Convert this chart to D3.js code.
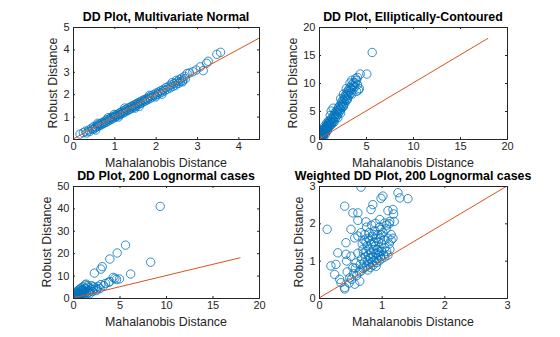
<!DOCTYPE html>
<html>
<head>
<meta charset="utf-8">
<script src="https://d3js.org/d3.v7.min.js"></script>
<style>
  body { margin: 0; background: #fff; }
  svg { display: block; font-family: "Liberation Sans", Arial, Helvetica, sans-serif; }
</style>
</head>
<body>
<svg id="chart" width="560" height="337"></svg>
<script>
// --- data ---
const titles = [
  "DD Plot, Multivariate Normal",
  "DD Plot, Elliptically-Contoured",
  "DD Plot, 200 Lognormal cases",
  "Weighted DD Plot, 200 Lognormal cases"
]
const xLabel = "Mahalanobis Distance"
const yLabel = "Robust Distance"

const xDomains = [[0, 4.5], [0, 20], [0, 20], [0, 3]]
const yDomains = [[0, 5], [0, 20], [0, 50], [0, 3]]
const xTicks = [[0, 1, 2, 3, 4], [0, 5, 10, 15, 20], [0, 5, 10, 15, 20], [0, 1, 2, 3]]
const yTicks = [[0, 1, 2, 3, 4, 5], [0, 5, 10, 15, 20], [0, 10, 20, 30, 40, 50], [0, 1, 2, 3]]
// reference line end (line goes from 0,0 to end,end)
const lineEnds = [4.5, 18, 18, 3]

const normalPts = [
  [0.17,0.22],[0.25,0.28],[0.30,0.35],[0.33,0.27],[0.38,0.40],[0.40,0.33],[0.45,0.48],[0.47,0.42],
  [0.50,0.55],[0.52,0.46],[0.55,0.52],[0.58,0.62],[0.60,0.56],[0.60,0.70],[0.63,0.66],[0.65,0.60],
  [0.68,0.70],[0.70,0.64],[0.72,0.75],[0.75,0.70],[0.78,0.80],[0.80,0.74],[0.82,0.86],[0.85,0.80],
  [0.88,0.90],[0.90,0.85],[0.92,0.96],[0.95,0.90],[0.97,1.00],[1.00,0.95],[1.00,1.10],[1.02,1.06],
  [1.04,1.00],[1.07,1.10],[1.09,1.04],[1.12,1.15],[1.14,1.09],[1.16,1.20],[1.19,1.14],[1.21,1.25],
  [1.23,1.18],[1.26,1.30],[1.28,1.22],[1.30,1.34],[1.33,1.28],[1.35,1.40],[1.37,1.32],[1.40,1.44],
  [1.42,1.37],[1.44,1.48],[1.47,1.42],[1.49,1.53],[1.50,1.38],[1.51,1.46],[1.54,1.58],[1.56,1.52],
  [1.58,1.62],[1.61,1.56],[1.63,1.67],[1.65,1.60],[1.68,1.72],[1.70,1.65],[1.73,1.76],[1.75,1.70],
  [1.78,1.80],[1.80,1.75],[1.83,1.86],[1.86,1.80],[1.89,1.92],[1.92,1.87],[1.95,1.98],[1.98,1.93],
  [2.00,1.88],[2.01,2.05],[2.04,1.99],[2.07,2.10],[2.10,2.05],[2.13,2.16],[2.16,2.10],[2.19,2.22],
  [2.22,2.16],[2.25,2.30],[2.28,2.22],[2.32,2.36],[2.35,2.28],[2.38,2.42],[2.42,2.35],[2.45,2.48],
  [2.48,2.40],[2.52,2.55],[2.55,2.48],[2.58,2.66],[2.60,2.56],[2.63,2.72],[2.66,2.62],[2.70,2.80],
  [2.72,2.70],[2.76,2.92],[2.82,2.95],[2.90,3.00],[2.98,3.08],[3.08,3.22],[3.15,3.05],[3.23,3.38],
  [3.27,3.47],[3.48,3.78],[3.57,3.87],
  [0.55,0.40],[0.85,0.95],[1.10,0.98],[1.25,1.38],[1.60,1.45],[1.85,1.95],[2.15,2.00],[2.40,2.52],
  [2.65,2.55],[2.50,2.62]
]

const ellipticPts = [
  [0.05,0.1],[0.08,0.4],[0.1,0.15],[0.12,0.6],[0.15,0.3],[0.18,0.8],[0.2,0.1],[0.22,0.5],
  [0.25,0.9],[0.28,0.3],[0.3,0.7],[0.33,1.1],[0.35,0.5],[0.38,0.9],[0.4,1.3],[0.42,0.6],
  [0.45,1.0],[0.48,1.5],[0.5,0.8],[0.52,1.2],[0.55,1.7],[0.58,1.0],[0.6,1.4],[0.62,1.9],
  [0.65,1.2],[0.7,1.6],[0.72,2.1],[0.75,1.4],[0.8,1.9],[0.82,2.4],[0.85,1.7],[0.9,2.2],
  [0.95,2.7],[1.0,2.0],[1.02,2.5],[1.08,3.0],[1.1,2.3],[1.15,2.8],[1.2,3.3],[1.25,2.6],
  [1.3,3.1],[1.35,3.7],[1.4,2.9],[1.45,3.5],[1.5,4.1],[1.55,3.2],[1.6,3.9],[1.65,4.5],
  [1.7,3.6],[1.75,4.3],[1.8,4.9],[1.85,4.0],[1.9,4.7],[1.95,5.3],[2.0,4.4],[2.05,5.1],
  [2.1,5.7],[2.15,4.8],[2.2,5.5],[2.25,6.1],[2.3,5.2],[2.35,5.9],[2.4,6.6],[2.45,5.6],
  [2.5,6.3],[2.55,7.0],[2.6,6.0],[2.65,6.8],[2.7,7.5],[2.75,6.4],[2.8,7.2],[2.85,7.9],
  [2.9,6.9],[2.95,7.7],[3.0,8.4],[3.05,7.3],[3.1,8.1],[3.15,8.8],[3.2,7.8],[3.25,8.6],
  [3.3,9.2],[3.4,8.2],[3.45,9.0],[3.5,9.7],[3.6,8.8],[3.65,9.5],[3.7,10.1],[3.8,9.3],
  [3.9,10.0],[4.0,10.5],[4.1,9.7],[4.2,8.75],[4.38,11.6],[5.09,11.6],[5.66,15.45],
  [0.4,1.7],[0.6,2.3],[0.8,2.8],[0.9,1.5],[1.0,3.2],[1.2,4.2],[1.3,2.5],[1.3,5.0],
  [1.5,5.5],[1.6,3.0],[2.0,3.8],[2.3,4.6],[2.3,7.2],[2.6,5.8],[2.6,8.0],[2.9,9.0],
  [3.0,7.0],[3.3,10.0],[3.5,10.5],[3.5,8.0],[3.9,10.8],[4.0,8.5],[4.1,11.0],[4.3,9.0],
  [0.3,0.0],[0.5,0.2],[0.15,1.0],[0.7,0.9]
]

const lognormalPts = [
  [0.15,0.1],[0.2,0.5],[0.25,1.5],[0.3,0.2],[0.3,2.5],[0.35,1.0],[0.4,0.3],[0.4,1.8],
  [0.45,3.0],[0.5,0.6],[0.5,1.0],[0.5,2.2],[0.55,1.2],[0.6,0.4],[0.6,3.5],[0.65,1.7],
  [0.7,0.8],[0.7,2.8],[0.75,4.0],[0.8,1.3],[0.8,2.0],[0.85,0.5],[0.9,3.2],[0.9,4.5],
  [0.95,1.6],[1.0,2.5],[1.0,0.9],[1.05,3.8],[1.1,5.0],[1.15,2.0],[1.2,1.2],[1.2,3.0],
  [1.3,4.2],[1.3,5.8],[1.4,2.6],[1.45,1.8],[1.5,3.5],[1.6,4.8],[1.7,2.4],[1.8,3.2],
  [1.9,4.0],[2.0,5.5],[2.1,2.9],[2.2,3.8],[2.4,4.5],[2.5,3.3],[2.7,5.2],[2.9,4.2],
  [3.0,6.0],[3.3,5.5],[3.5,6.5],[3.83,7.0],[3.96,7.3],[4.32,9.2],[4.5,8.8],[4.68,8.3],
  [5.0,8.5],[6.2,10.7],[8.35,16.0],[2.3,11.1],[3.0,12.9],[3.15,14.0],[3.96,17.4],
  [4.75,20.1],[5.65,23.6],[9.38,40.9],
  [1.4,6.2],[1.6,5.6],[2.2,5.0],[2.6,4.0],[1.1,3.5],[0.6,2.0],[0.3,1.2],[1.8,1.9]
]

const weightedPts = [
  [0.67,2.97],[1.26,2.82],[1.29,2.68],[1.42,2.66],[1.02,2.73],[0.99,2.67],[0.41,2.46],[0.86,2.5],
  [0.83,2.37],[0.54,2.28],[0.62,2.28],[0.62,2.08],[0.75,2.04],[1.1,2.34],[1.18,2.37],[1.19,2.25],
  [0.13,1.84],[0.51,1.84],[0.97,2.1],[0.99,1.84],[1.05,2.01],[1.12,1.99],[0.62,1.66],[0.57,1.61],
  [0.43,1.48],[0.67,1.75],[0.43,1.17],[0.30,1.21],[0.19,0.86],[0.27,0.9],[0.25,0.63],[0.33,0.5],
  [0.35,0.41],[0.41,0.28],[0.57,0.37],[0.65,0.45],[0.49,0.54],[0.54,0.81],[0.44,0.99],[0.51,1.12],
  [0.59,0.94],[0.67,0.72],[0.73,0.81],[0.41,0.24],
  [0.70,0.80],[0.72,0.95],[0.74,1.10],[0.75,1.25],[0.76,0.85],[0.77,1.40],[0.78,1.00],[0.79,1.15],
  [0.80,1.30],[0.80,0.90],[0.81,1.55],[0.82,1.05],[0.83,1.20],[0.84,1.45],[0.85,0.95],[0.85,1.65],
  [0.86,1.10],[0.87,1.30],[0.88,1.50],[0.88,1.00],[0.89,1.80],[0.90,1.20],[0.90,1.40],[0.91,1.60],
  [0.92,1.05],[0.93,1.30],[0.94,1.70],[0.95,1.15],[0.95,1.50],[0.96,1.35],[0.97,1.90],[0.98,1.10],
  [0.98,1.60],[1.00,1.25],[1.00,1.45],[1.02,1.75],[1.03,1.15],[1.04,1.55],[1.05,1.35],[1.07,1.85],
  [1.08,1.25],[1.10,1.60],[1.12,1.45],[1.13,1.30],[1.15,1.70],[0.68,1.05],[0.70,1.30],[0.72,1.55],
  [0.66,0.90],[0.64,0.70],[0.60,0.60],[0.62,1.20],[0.69,1.45],[0.73,1.70],[0.76,1.90],[0.55,0.65],
  [0.58,0.80],[0.52,0.50],[0.48,0.40],[0.45,0.70],[0.78,0.75],[0.82,0.82],[0.86,0.88],[0.92,0.95],
  [0.96,1.00],[1.00,1.05],[1.05,1.10],[1.10,1.15],[0.80,1.75],[0.84,1.95],[0.90,2.00],[0.93,1.20],
  [0.87,1.70],[0.79,1.60],[0.75,1.50],[0.71,1.20],[1.08,1.95],[1.13,2.05],[1.15,1.55],[1.18,1.60],
  [1.20,2.05],[0.96,1.25],[0.99,1.70],[0.91,0.85]
]
const seriesList = [normalPts, ellipticPts, lognormalPts, weightedPts]

// --- layout (axes boxes in pixels) ---
const boxes = [
  { x: 73, y: 27, w: 186, h: 112 },
  { x: 319, y: 27, w: 188, h: 112 },
  { x: 73, y: 186, w: 186, h: 112 },
  { x: 319, y: 186, w: 188, h: 112 }
]
const axisColor = "#262626"
const markerColor = "#0072BD"
const lineColor = "#D95319"
const tickLen = 2
const tickFont = 11
const labelFont = 12.4

const svg = d3.select("#chart")

boxes.forEach((b, i) => {
  const g = svg.append("g").attr("transform", `translate(${b.x},${b.y})`)
  const x = d3.scaleLinear().domain(xDomains[i]).range([0, b.w])
  const y = d3.scaleLinear().domain(yDomains[i]).range([b.h, 0])

  g.append("clipPath").attr("id", "clip" + i)
    .append("rect").attr("width", b.w).attr("height", b.h)
  const plot = g.append("g").attr("clip-path", `url(#clip${i})`)

  plot.selectAll("circle")
    .data(seriesList[i])
    .enter()
    .append("circle")
    .attr("cx", d => x(d[0]))
    .attr("cy", d => y(d[1]))
    .attr("r", 4.2)
    .attr("fill", "none")
    .attr("stroke", markerColor)
    .attr("stroke-width", 0.8)

  plot.append("line")
    .attr("x1", x(0)).attr("y1", y(0))
    .attr("x2", x(lineEnds[i])).attr("y2", y(lineEnds[i]))
    .attr("stroke", lineColor)
    .attr("stroke-width", 1)

  // axes: ticks inside, mirrored on top/right
  const fmt = d3.format("d")
  const bottom = g.append("g").attr("transform", `translate(0,${b.h})`)
    .call(d3.axisBottom(x).tickValues(xTicks[i]).tickSize(-tickLen).tickPadding(3.5).tickFormat(fmt))
  const top = g.append("g")
    .call(d3.axisTop(x).tickValues(xTicks[i]).tickSize(-tickLen).tickFormat(""))
  const left = g.append("g")
    .call(d3.axisLeft(y).tickValues(yTicks[i]).tickSize(-tickLen).tickPadding(3.5).tickFormat(fmt))
  const right = g.append("g").attr("transform", `translate(${b.w},0)`)
    .call(d3.axisRight(y).tickValues(yTicks[i]).tickSize(-tickLen).tickFormat(""))

  ;[bottom, top, left, right].forEach(a => {
    a.select(".domain").attr("stroke", axisColor).attr("stroke-width", 1)
    a.selectAll(".tick line").attr("stroke", axisColor).attr("stroke-width", 1)
    a.selectAll(".tick text").attr("fill", axisColor)
      .attr("font-family", "'Liberation Sans', Arial, sans-serif").attr("font-size", tickFont)
  })

  // left tick labels width for y label position
  let maxW = 0
  left.selectAll(".tick text").each(function () { maxW = Math.max(maxW, this.getBBox().width) })

  g.append("text")
    .attr("x", b.w / 2).attr("y", -6)
    .attr("text-anchor", "middle")
    .attr("font-size", labelFont).attr("font-weight", "bold")
    .attr("fill", "#000")
    .text(titles[i])

  g.append("text")
    .attr("x", b.w / 2).attr("y", b.h + 27.5)
    .attr("text-anchor", "middle")
    .attr("font-size", labelFont)
    .attr("fill", axisColor)
    .text(xLabel)

  g.append("text")
    .attr("transform", `translate(${-maxW - 10},${b.h / 2}) rotate(-90)`)
    .attr("text-anchor", "middle")
    .attr("font-size", labelFont)
    .attr("fill", axisColor)
    .text(yLabel)
})
</script>
</body>
</html>
